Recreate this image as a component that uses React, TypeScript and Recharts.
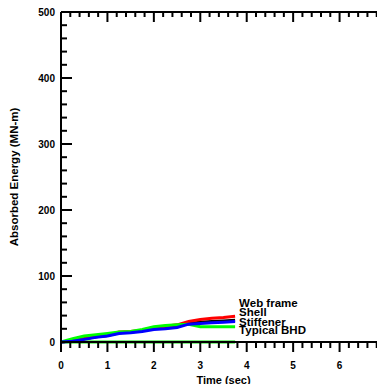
import { LineChart, Line, XAxis, YAxis } from "recharts";

const time = [0, 0.25, 0.5, 0.75, 1, 1.25, 1.5, 1.75, 2, 2.25, 2.5, 2.75, 3, 3.25, 3.5, 3.75];
const webFrame = [0, 2, 5, 8, 10, 15, 16, 18, 22, 24, 26, 31, 34, 36, 37, 39];
const shell = [0, 2, 5, 8, 10, 14, 15, 17, 21, 22, 24, 28, 30, 31, 32, 33];
const stiffener = [0, 1, 4, 7, 9, 13, 14, 16, 19, 20, 22, 27, 28, 29, 30, 31];
const typicalBhd = [0, 5, 9, 11, 13, 15, 16, 19, 23, 25, 26, 27, 23, 23, 23, 23];
const otherBhd = [0, 0, 0, 0, 0, 0, 0, 0, 0, 0, 0, 0, 0, 0, 0, 0];
const otherBhd2 = [null, null, null, null, null, null, null, 0.5, 0.5, 0.5, 0.5, 0.5, 0.5, 0.5, 0.5, 0.5];

const xTicks = [0, 1, 2, 3, 4, 5, 6, 7];
const yTicks = [0, 100, 200, 300, 400, 500];
const xMinor = 5;
const yMinor = 5;

const data = time.map((t, i) => ({
  t,
  web: webFrame[i],
  shell: shell[i],
  stiff: stiffener[i],
  bhd: typicalBhd[i],
  zero: otherBhd[i],
  zero2: otherBhd2[i],
}));

const allX: number[] = [];
for (let i = 0; i < xTicks.length - 1; i++)
  for (let j = 0; j < xMinor; j++) allX.push(xTicks[i] + (j * (xTicks[i + 1] - xTicks[i])) / xMinor);
allX.push(xTicks[xTicks.length - 1]);

const allY: number[] = [];
for (let i = 0; i < yTicks.length - 1; i++)
  for (let j = 0; j < yMinor; j++) allY.push(yTicks[i] + (j * (yTicks[i + 1] - yTicks[i])) / yMinor);
allY.push(yTicks[yTicks.length - 1]);

const font = "Liberation Sans, Arial, sans-serif";
const isMajor = (v: number, list: number[]) => list.some((m) => Math.abs(m - v) < 1e-6);

const BottomTick = (p: any) => {
  const major = isMajor(p.payload.value, xTicks);
  return (
    <g>
      <line x1={p.x} x2={p.x} y1={p.y} y2={p.y + (major ? 10 : 6)} stroke="#000" strokeWidth={2} />
      {major && (
        <text x={p.x} y={p.y + 27} textAnchor="middle" fontSize={10} fontWeight="bold" fontFamily={font} fill="#000">
          {p.payload.value}
        </text>
      )}
    </g>
  );
};

const TopTick = (p: any) => {
  const major = isMajor(p.payload.value, xTicks);
  return <line x1={p.x} x2={p.x} y1={p.y} y2={p.y + (major ? 10 : 5)} stroke="#000" strokeWidth={2} />;
};

const LeftTick = (p: any) => {
  const major = isMajor(p.payload.value, yTicks);
  return (
    <g>
      <line x1={p.x} x2={p.x + (major ? 11 : 6)} y1={p.y} y2={p.y} stroke="#000" strokeWidth={2} />
      {major && (
        <text x={p.x - 6} y={p.y + 3.5} textAnchor="end" fontSize={10} fontWeight="bold" fontFamily={font} fill="#000">
          {p.payload.value}
        </text>
      )}
    </g>
  );
};

const RightTick = (p: any) => {
  const major = isMajor(p.payload.value, yTicks);
  return <line x1={p.x} x2={p.x - (major ? 10 : 5)} y1={p.y} y2={p.y} stroke="#000" strokeWidth={2} />;
};

const endLabel = (text: string, dy: number) => (p: any) =>
  p.index === time.length - 1 ? (
    <text x={p.x + 4} y={p.y + dy} fontSize={11.5} fontWeight="bold" fontFamily={font} fill="#000">
      {text}
    </text>
  ) : null;

export default function App() {
  return (
    <div style={{ margin: -8, width: 385, height: 392, overflow: "hidden", background: "#fff" }}>
      <LineChart width={392} height={392} data={data} margin={{ top: 0, right: 0, bottom: 0, left: 0 }}>
        <XAxis
          dataKey="t"
          type="number"
          domain={[0, 7]}
          ticks={allX}
          interval={0}
          height={50}
          tickSize={0}
          tickMargin={0}
          tickLine={false}
          axisLine={{ stroke: "#000", strokeWidth: 2 }}
          tick={BottomTick}
          label={{ value: "Time (sec)", position: "insideBottom", offset: 8, fontSize: 11, fontWeight: "bold", fontFamily: font, fill: "#000" }}
        />
        <XAxis
          xAxisId="top"
          orientation="top"
          dataKey="t"
          type="number"
          domain={[0, 7]}
          ticks={allX}
          interval={0}
          height={12}
          tickSize={0}
          tickMargin={0}
          tickLine={false}
          axisLine={{ stroke: "#000", strokeWidth: 2 }}
          tick={TopTick}
        />
        <YAxis
          type="number"
          domain={[0, 500]}
          ticks={allY}
          interval={0}
          width={61}
          tickSize={0}
          tickMargin={0}
          tickLine={false}
          axisLine={{ stroke: "#000", strokeWidth: 2 }}
          tick={LeftTick}
          label={{ value: "Absorbed Energy (MN-m)", angle: -90, position: "insideLeft", offset: 14, fontSize: 11.5, fontWeight: "bold", fontFamily: font, fill: "#000", style: { textAnchor: "middle" } }}
        />
        <YAxis
          yAxisId="right"
          orientation="right"
          type="number"
          domain={[0, 500]}
          ticks={allY}
          interval={0}
          width={6}
          tickSize={0}
          tickMargin={0}
          tickLine={false}
          axisLine={{ stroke: "#000", strokeWidth: 2 }}
          tick={RightTick}
        />
        <Line dataKey="zero" stroke="#00e000" strokeWidth={3} dot={false} isAnimationActive={false} />
        <Line dataKey="zero2" stroke="#d8a090" strokeWidth={1.5} dot={false} isAnimationActive={false} />
        <Line dataKey="shell" stroke="#000" strokeWidth={3} dot={false} isAnimationActive={false} label={endLabel("Shell", -4.6)} />
        <Line dataKey="web" stroke="#ff0000" strokeWidth={3} dot={false} isAnimationActive={false} label={endLabel("Web frame", -9.3)} />
        <Line dataKey="bhd" stroke="#00ff00" strokeWidth={3} dot={false} isAnimationActive={false} label={endLabel("Typical BHD", 7)} />
        <Line dataKey="stiff" stroke="#0000ff" strokeWidth={3} dot={false} isAnimationActive={false} label={endLabel("Stiffener", 4)} />
      </LineChart>
    </div>
  );
}
